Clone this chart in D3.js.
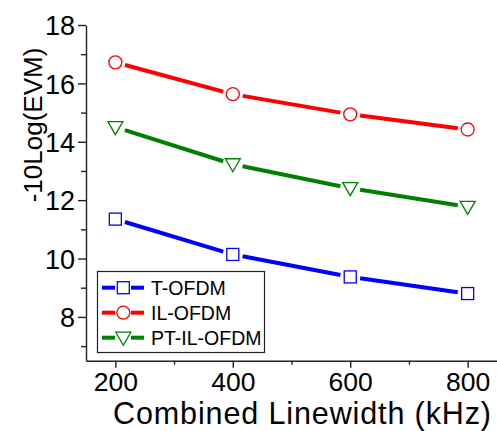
<!DOCTYPE html>
<svg width="497" height="431"></svg>
<style>
  body { margin: 0; background: #fff; }
  svg { display: block; }
  svg text { font-family: "Liberation Sans", Arial, sans-serif; fill: #000; }
</style>
<script src="https://d3js.org/d3.v7.min.js"></script>
<script>

// data
var linewidth = [200, 400, 600, 800];
var tOfdm  = [11.35, 10.14, 9.37, 8.80];
var ilOfdm = [16.72, 15.63, 14.94, 14.42];
var ptIlOfdm = [14.50, 13.23, 12.41, 11.77];
var seriesNames = ["T-OFDM", "IL-OFDM", "PT-IL-OFDM"];
var xTicks = [200, 400, 600, 800];
var yTicks = [8, 10, 12, 14, 16, 18];

var series = [
  {name: seriesNames[0], values: tOfdm, color: "#0000ff", symbol: "square"},
  {name: seriesNames[1], values: ilOfdm, color: "#ff0000", symbol: "circle"},
  {name: seriesNames[2], values: ptIlOfdm, color: "#008000", symbol: "triangle"}
];

var svg = d3.select("svg");

var x = d3.scaleLinear().domain([150, 850]).range([86, 497]);
var y = d3.scaleLinear().domain([6.5, 18]).range([360.7, 25]);

// draw a hollow marker
function marker(sel, sym, color) {
  if (sym === "square") {
    sel.append("rect").attr("x", -6).attr("y", -6).attr("width", 12).attr("height", 12);
  } else if (sym === "circle") {
    sel.append("circle").attr("r", 6.5);
  } else {
    sel.append("path").attr("d", "M-7.5,-5.5L7.5,-5.5L0,7.5Z");
  }
  sel.selectAll("rect,circle,path")
      .attr("fill", "white")
      .attr("stroke", color)
      .attr("stroke-width", 1.3);
}

// axes
var xAxis = svg.append("g")
    .attr("transform", "translate(0," + y(6.5) + ")")
    .call(d3.axisBottom(x).tickValues(xTicks).tickSize(7).tickSizeOuter(0).tickPadding(4));
var yAxis = svg.append("g")
    .attr("transform", "translate(" + x(150) + ",0)")
    .call(d3.axisLeft(y).tickValues(yTicks).tickSize(8).tickSizeOuter(0).tickPadding(3));

// minor ticks
svg.append("g")
    .attr("transform", "translate(0," + y(6.5) + ")")
    .call(d3.axisBottom(x).tickValues([300, 500, 700]).tickSize(4).tickFormat(""))
    .select(".domain").remove();
svg.append("g")
    .attr("transform", "translate(" + x(150) + ",0)")
    .call(d3.axisLeft(y).tickValues([7, 9, 11, 13, 15, 17]).tickSize(5).tickFormat(""))
    .select(".domain").remove();

svg.selectAll(".domain, .tick line").attr("stroke", "#222").attr("stroke-width", 1.4);
xAxis.selectAll(".tick text").style("font-size", "26.5px").attr("dy", "0.71em");
yAxis.selectAll(".tick text").style("font-size", "27px").attr("dy", "0.36em");

// axis titles
svg.append("text")
    .attr("x", 113)
    .attr("y", 424)
    .attr("textLength", 378)
    .attr("lengthAdjust", "spacing")
    .style("font-size", "30.5px")
    .text("Combined Linewidth (kHz)");

svg.append("text")
    .attr("transform", "translate(42,125) rotate(-90)")
    .attr("text-anchor", "middle")
    .style("font-size", "26px")
    .text("-10Log(EVM)");

// series: line segments with a gap at each marker
var gap = 10;
series.forEach(function(s) {
  var g = svg.append("g");
  for (var i = 0; i < linewidth.length - 1; i++) {
    var x1 = x(linewidth[i]), y1 = y(s.values[i]);
    var x2 = x(linewidth[i + 1]), y2 = y(s.values[i + 1]);
    var len = Math.hypot(x2 - x1, y2 - y1);
    var ux = (x2 - x1) / len, uy = (y2 - y1) / len;
    g.append("line")
        .attr("x1", x1 + ux * gap).attr("y1", y1 + uy * gap)
        .attr("x2", x2 - ux * gap).attr("y2", y2 - uy * gap)
        .attr("stroke", s.color)
        .attr("stroke-width", 4);
  }
  s.values.forEach(function(v, i) {
    g.append("g")
        .attr("transform", "translate(" + x(linewidth[i]) + "," + y(v) + ")")
        .call(marker, s.symbol, s.color);
  });
});

// legend
var legend = svg.append("g");
legend.append("rect")
    .attr("x", 97.5).attr("y", 271.5)
    .attr("width", 167).attr("height", 81)
    .attr("fill", "white")
    .attr("stroke", "#222")
    .attr("stroke-width", 1.2);

series.forEach(function(s, i) {
  var ly = 287.7 + i * 25;
  legend.append("line")
      .attr("x1", 102).attr("x2", 115)
      .attr("y1", ly).attr("y2", ly)
      .attr("stroke", s.color).attr("stroke-width", 4);
  legend.append("line")
      .attr("x1", 131).attr("x2", 144)
      .attr("y1", ly).attr("y2", ly)
      .attr("stroke", s.color).attr("stroke-width", 4);
  legend.append("g")
      .attr("transform", "translate(123.3," + ly + ")")
      .call(marker, s.symbol, s.color);
  legend.append("text")
      .attr("x", 151)
      .attr("y", ly)
      .attr("dy", "0.36em")
      .style("font-size", "19.5px")
      .text(s.name);
});

</script>
